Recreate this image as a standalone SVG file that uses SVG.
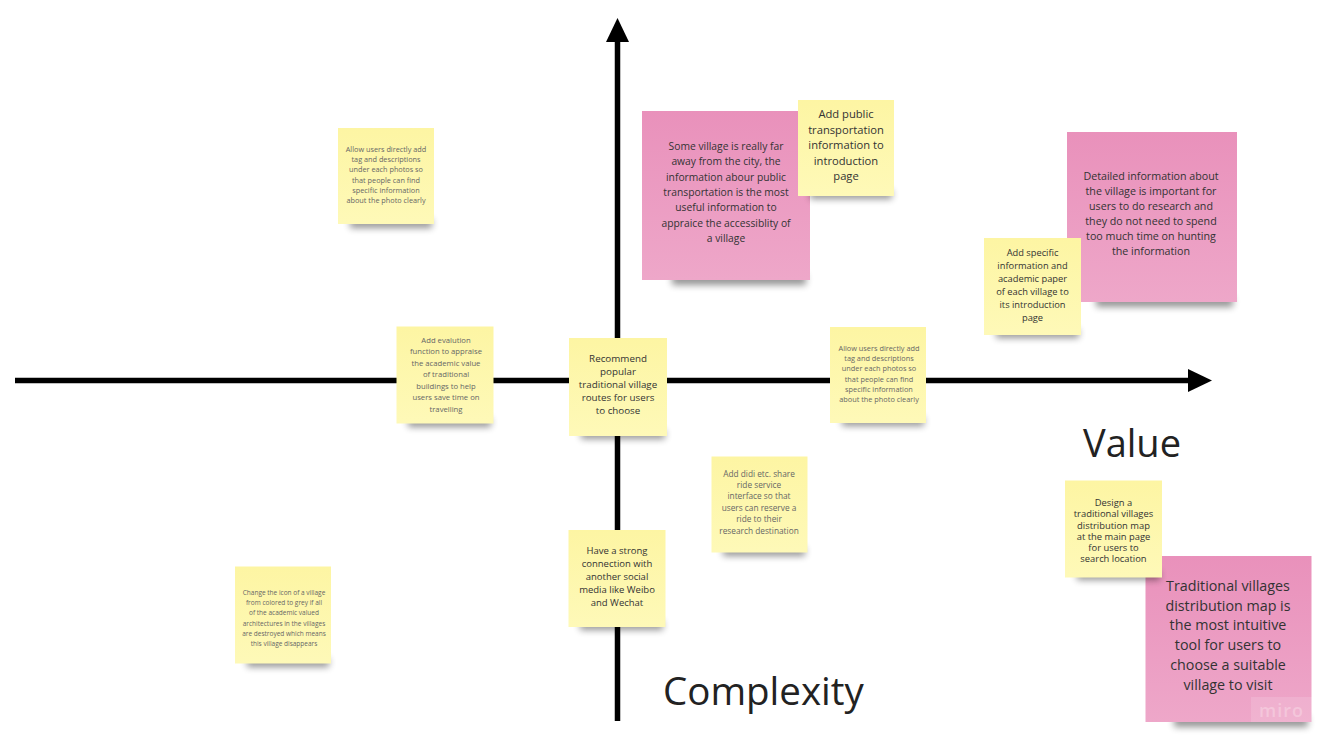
<svg xmlns="http://www.w3.org/2000/svg" width="1334" height="749" viewBox="0 0 1334 749">
<defs>
<linearGradient id="gy" x1="0" y1="0" x2="0" y2="1"><stop offset="0" stop-color="#fdf5a3"/><stop offset="1" stop-color="#fef9b8"/></linearGradient>
<linearGradient id="gp" x1="0" y1="0" x2="0" y2="1"><stop offset="0" stop-color="#e991bb"/><stop offset="1" stop-color="#eea7c9"/></linearGradient>
<filter id="sh" x="-20%" y="-100%" width="140%" height="300%"><feGaussianBlur stdDeviation="3.5"/></filter>
<marker id="ah" markerUnits="userSpaceOnUse" markerWidth="24" markerHeight="23" refX="0" refY="11.5" orient="auto"><path d="M0,0 L24,11.5 L0,23 z" fill="#000"/></marker>
</defs>
<style>
.y{fill:url(#gy)}
.p{fill:url(#gp)}
.s{fill:#000;opacity:.42;filter:url(#sh)}
text{font-family:"Open Sans","Noto Sans","Liberation Sans",sans-serif;text-anchor:middle}
.t{fill:#333}
.g{fill:#666}
.lbl{fill:#222;text-anchor:start}
.ax{stroke:#000;stroke-width:5.5;fill:none;marker-end:url(#ah)}
</style>
<rect width="1334" height="749" fill="#fff"/>
<g id="connectors">
<line class="ax" x1="15" y1="380.5" x2="1188" y2="380.5"/>
<line class="ax" x1="617.5" y1="721" x2="617.5" y2="42"/>
</g>
<g id="label-value"><text class="lbl" x="1083" y="457" font-size="38">Value</text></g>
<g id="label-complexity"><text class="lbl" x="663" y="705" font-size="38.5">Complexity</text></g>

<g id="note-allow-1">
<rect class="s" x="350" y="219" width="82" height="9"/>
<rect class="y" x="338" y="128" width="96" height="96"/>
<g class="g" font-size="7.3">
<text x="386" y="151.5">Allow users directly add</text>
<text x="386" y="161.8">tag and descriptions</text>
<text x="386" y="172.2">under each photos so</text>
<text x="386" y="182.5">that people can find</text>
<text x="386" y="192.8">specific information</text>
<text x="386" y="203.2">about the photo clearly</text>
</g></g>

<g id="note-pink-transport">
<rect class="s" x="672" y="274" width="134" height="11"/>
<rect class="p" x="642" y="111" width="168" height="169"/>
<g class="t" font-size="10.3">
<text x="726" y="149.8">Some village is really far</text>
<text x="726" y="165.2">away from the city, the</text>
<text x="726" y="180.6">information abour public</text>
<text x="726" y="196">transportation is the most</text>
<text x="726" y="211.4">useful information to</text>
<text x="726" y="226.8">appraice the accessiblity of</text>
<text x="726" y="242.2">a village</text>
</g></g>

<g id="note-add-public">
<rect class="s" x="810" y="190" width="82" height="9"/>
<rect class="y" x="798" y="100" width="96" height="96"/>
<g class="t" font-size="11.2">
<text x="846" y="118.4">Add public</text>
<text x="846" y="133.8">transportation</text>
<text x="846" y="149.2">information to</text>
<text x="846" y="164.6">introduction</text>
<text x="846" y="180">page</text>
</g></g>

<g id="note-pink-detailed">
<rect class="s" x="1096" y="296" width="137" height="11"/>
<rect class="p" x="1067" y="132" width="170" height="170"/>
<g class="t" font-size="10.7">
<text x="1151" y="179.9">Detailed information about</text>
<text x="1151" y="194.9">the village is important for</text>
<text x="1151" y="209.9">users to do research and</text>
<text x="1151" y="224.9">they do not need to spend</text>
<text x="1151" y="239.9">too much time on hunting</text>
<text x="1151" y="254.9">the information</text>
</g></g>

<g id="note-add-specific">
<rect class="s" x="996" y="329" width="83" height="9"/>
<rect class="y" x="984" y="238" width="97" height="97"/>
<g class="t" font-size="9.3">
<text x="1032.5" y="256.1">Add specific</text>
<text x="1032.5" y="269">information and</text>
<text x="1032.5" y="281.8">academic paper</text>
<text x="1032.5" y="294.7">of each village to</text>
<text x="1032.5" y="307.6">its introduction</text>
<text x="1032.5" y="320.5">page</text>
</g></g>

<g id="note-evaluation">
<rect class="s" x="408" y="418" width="83" height="9"/>
<rect class="y" x="396.5" y="326.5" width="97" height="97"/>
<g class="g" font-size="7.7">
<text x="446" y="343">Add evalution</text>
<text x="446" y="354.4">function to appraise</text>
<text x="446" y="365.9">the academic value</text>
<text x="446" y="377.3">of traditional</text>
<text x="446" y="388.8">buildings to help</text>
<text x="446" y="400.2">users save time on</text>
<text x="446" y="411.6">travelling</text>
</g></g>

<g id="note-recommend">
<rect class="s" x="581" y="430" width="84" height="9"/>
<rect class="y" x="569" y="338" width="98" height="98"/>
<g class="t" font-size="9.8">
<text x="618" y="362">Recommend</text>
<text x="618" y="375">popular</text>
<text x="618" y="388">traditional village</text>
<text x="618" y="401">routes for users</text>
<text x="618" y="414">to choose</text>
</g></g>

<g id="note-allow-2">
<rect class="s" x="842" y="417" width="82" height="9"/>
<rect class="y" x="830" y="327" width="96" height="96"/>
<g class="g" font-size="7.35">
<text x="879" y="350.5">Allow users directly add</text>
<text x="879" y="360.8">tag and descriptions</text>
<text x="879" y="371.2">under each photos so</text>
<text x="879" y="381.5">that people can find</text>
<text x="879" y="391.8">specific information</text>
<text x="879" y="402.2">about the photo clearly</text>
</g></g>

<g id="note-didi">
<rect class="s" x="723" y="547" width="82" height="9"/>
<rect class="y" x="711.5" y="456.5" width="96" height="96"/>
<g class="g" font-size="8.3">
<text x="759" y="476.8">Add didi etc. share</text>
<text x="759" y="488.1">ride service</text>
<text x="759" y="499.4">interface so that</text>
<text x="759" y="510.8">users can reserve a</text>
<text x="759" y="522.1">ride to their</text>
<text x="759" y="533.5">research destination</text>
</g></g>

<g id="note-social">
<rect class="s" x="580" y="621" width="83" height="9"/>
<rect class="y" x="568.5" y="530" width="97" height="97"/>
<g class="t" font-size="9.5">
<text x="617" y="553.6">Have a strong</text>
<text x="617" y="566.8">connection with</text>
<text x="617" y="580">another social</text>
<text x="617" y="593.2">media like Weibo</text>
<text x="617" y="606.4">and Wechat</text>
</g></g>

<g id="note-icon-grey">
<rect class="s" x="247" y="658" width="82" height="9"/>
<rect class="y" x="235" y="566.5" width="96" height="97"/>
<g class="g" font-size="6.5">
<text x="284" y="594.7">Change the icon of a village</text>
<text x="284" y="605">from colored to grey if all</text>
<text x="284" y="615.2">of the academic valued</text>
<text x="284" y="625.5">architectures in the villages</text>
<text x="284" y="635.8">are destroyed which means</text>
<text x="284" y="646">this village disappears</text>
</g></g>

<g id="note-pink-map">
<rect class="s" x="1174" y="716" width="134" height="11"/>
<rect class="p" x="1145.5" y="556" width="166" height="166"/>
<g class="t" font-size="14.3">
<text x="1228" y="591">Traditional villages</text>
<text x="1228" y="610.7">distribution map is</text>
<text x="1228" y="630.4">the most intuitive</text>
<text x="1228" y="650.1">tool for users to</text>
<text x="1228" y="669.8">choose a suitable</text>
<text x="1228" y="689.5">village to visit</text>
</g>
<rect x="1251" y="697" width="61" height="25" fill="#fff" opacity="0.14"/>
<text x="1281.5" y="717" font-size="18" font-weight="600" letter-spacing="1" fill="#f4c6db">miro</text>
</g>

<g id="note-design-map">
<rect class="s" x="1077" y="571" width="83" height="9"/>
<rect class="y" x="1065" y="480.5" width="97" height="97"/>
<g class="t" font-size="9.4">
<text x="1113.5" y="506.1">Design a</text>
<text x="1113.5" y="517.3">traditional villages</text>
<text x="1113.5" y="528.5">distribution map</text>
<text x="1113.5" y="539.7">at the main page</text>
<text x="1113.5" y="550.9">for users to</text>
<text x="1113.5" y="562.1">search location</text>
</g></g>
</svg>
